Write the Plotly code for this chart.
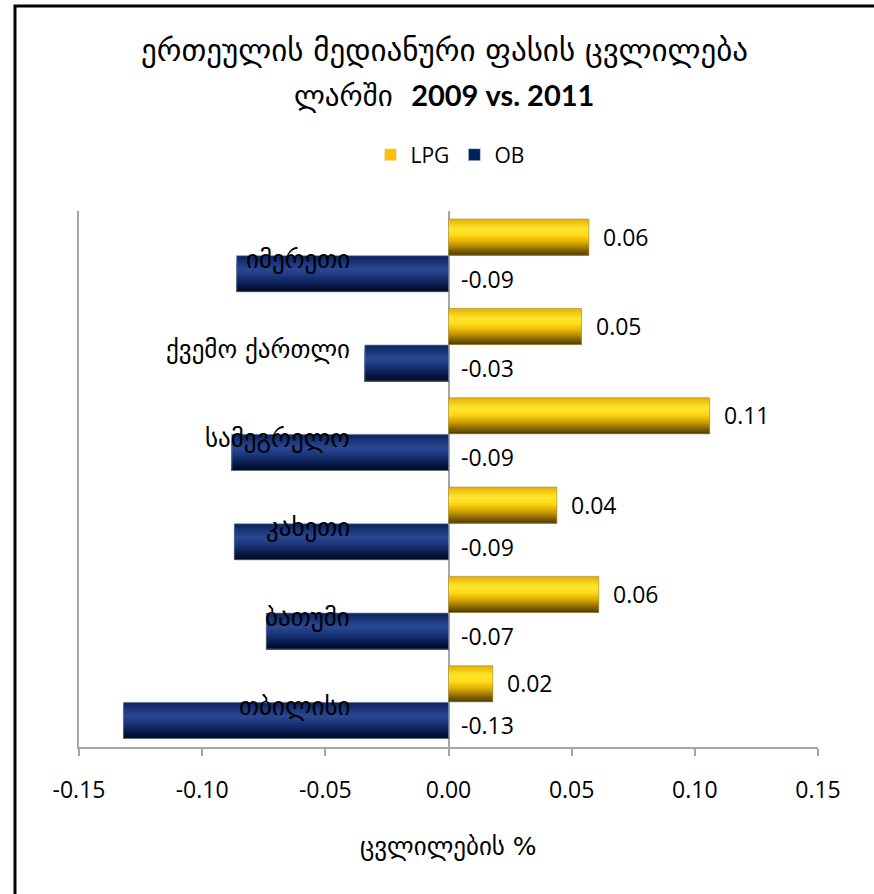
import plotly.graph_objects as go

# Regions, top to bottom
regions = ["იმერეთი", "ქვემო ქართლი", "სამეგრელო", "კახეთი", "ბათუმი", "თბილისი"]
lpg_change = [0.057, 0.054, 0.106, 0.044, 0.061, 0.018]
ob_change = [-0.086, -0.034, -0.088, -0.087, -0.074, -0.132]

x_ticks = [-0.15, -0.10, -0.05, 0.00, 0.05, 0.10, 0.15]
x_tick_text = [f"{v:.2f}" for v in x_ticks]

TITLE_1 = "ერთეულის მედიანური ფასის ცვლილება"
TITLE_2 = ("ლარში  <span style='font-family:Lato, sans-serif'>"
           "<b>2009 vs. 2011</b></span>")
X_TITLE = "ცვლილების %"

GEO_FONT = "DejaVu Sans, Noto Sans, sans-serif"
NUM_FONT = "Open Sans, Lato, sans-serif"

# vertical shading stops (0 = top edge of the bar, 1 = bottom edge)
LPG_STOPS = [(0.0, "#E6B000"), (0.28, "#FFE62E"), (0.45, "#FFDA18"),
             (0.65, "#D9A700"), (0.85, "#8A6800"), (1.0, "#4A3800")]
OB_STOPS = [(0.0, "#0C2360"), (0.38, "#2B4892"), (0.55, "#1C387E"),
            (0.78, "#0B1E52"), (1.0, "#00081E")]


def _hex(c):
    c = c.lstrip("#")
    return [int(c[i:i + 2], 16) for i in (0, 2, 4)]


def shade(stops, t):
    for (t0, c0), (t1, c1) in zip(stops[:-1], stops[1:]):
        if t0 <= t <= t1:
            f = (t - t0) / (t1 - t0) if t1 > t0 else 0
            a, b = _hex(c0), _hex(c1)
            r = [round(a[i] + (b[i] - a[i]) * f) for i in range(3)]
            return "rgb({},{},{})".format(*r)
    return stops[-1][1]


BAR_W = 0.405
N_STRIPES = 18
fig = go.Figure()


def add_shaded_bars(values, bottom_offset, stops, outline):
    # each band reaches down to the bar's bottom edge; later (lower) bands
    # paint over the earlier ones, which leaves no seams between them
    h = BAR_W / N_STRIPES
    for k in range(N_STRIPES):
        t = (k + 0.5) / N_STRIPES
        fig.add_trace(go.Bar(
            x=values, y=regions, orientation="h",
            offset=bottom_offset, width=BAR_W - k * h,
            marker=dict(color=shade(stops, t), line=dict(width=0)),
            showlegend=False, hoverinfo="skip",
        ))
    fig.add_trace(go.Bar(
        x=values, y=regions, orientation="h",
        offset=bottom_offset, width=BAR_W,
        marker=dict(color="rgba(0,0,0,0)", line=dict(width=1, color=outline)),
        showlegend=False, hoverinfo="skip",
    ))


add_shaded_bars(lpg_change, 0.005, LPG_STOPS, "rgba(170,150,90,0.7)")
add_shaded_bars(ob_change, -BAR_W, OB_STOPS, "rgba(140,150,170,0.7)")

# legend entries
fig.add_trace(go.Bar(x=[None], y=[None], orientation="h", name="LPG",
                     marker_color="#FFC000"))
fig.add_trace(go.Bar(x=[None], y=[None], orientation="h", name="OB",
                     marker_color="#002060"))

annotations = []
for name, lv, ov in zip(regions, lpg_change, ob_change):
    annotations.append(dict(
        x=lv, y=name, xref="x", yref="y", text=f"{lv:.2f}", showarrow=False,
        xanchor="left", yanchor="middle", xshift=12, yshift=BAR_W / 2 * 89 + 1,
        font=dict(family=NUM_FONT, size=23, color="#000000")))
    annotations.append(dict(
        x=0, y=name, xref="x", yref="y", text=f"{ov:.2f}", showarrow=False,
        xanchor="left", yanchor="middle", xshift=10, yshift=-BAR_W / 2 * 89 - 5,
        font=dict(family=NUM_FONT, size=23, color="#000000")))
    annotations.append(dict(
        x=0, y=name, xref="x", yref="y", text=name, showarrow=False,
        xanchor="right", yanchor="middle", xshift=-97, yshift=-4,
        font=dict(family=GEO_FONT, size=25, color="#000000")))

px = lambda v: (v - 79) / 739
py = lambda v: (747 - v) / 536

annotations += [
    dict(x=px(444), y=py(50), xref="paper", yref="paper",
         text=TITLE_1, showarrow=False, xanchor="center", yanchor="middle",
         font=dict(family=GEO_FONT, size=31, color="#000000")),
    dict(x=px(444), y=py(95), xref="paper", yref="paper",
         text=TITLE_2, showarrow=False, xanchor="center", yanchor="middle",
         font=dict(family=GEO_FONT, size=29, color="#000000")),
    dict(x=px(448), y=py(846), xref="paper", yref="paper",
         text=X_TITLE, showarrow=False, xanchor="center", yanchor="middle",
         font=dict(family=GEO_FONT, size=25, color="#000000")),
]

# outer frame: only its top and left edges fall inside the page
shapes = [
    dict(type="rect", xref="paper", yref="paper", x0=px(15), x1=px(910),
         y0=py(6), y1=py(930), line=dict(color="#000000", width=3),
         fillcolor="rgba(0,0,0,0)", layer="above"),
]

fig.update_layout(
    width=874, height=894,
    margin=dict(l=79, r=56, t=211, b=147),
    paper_bgcolor="#FFFFFF", plot_bgcolor="#FFFFFF",
    barmode="overlay",
    showlegend=True,
    legend=dict(orientation="h", x=px(450), y=py(155), xanchor="center",
                yanchor="middle", font=dict(family=NUM_FONT, size=21, color="#000000"),
                itemwidth=30, tracegroupgap=0, bgcolor="rgba(0,0,0,0)"),
    annotations=annotations,
    shapes=shapes,
    xaxis=dict(range=[-0.15, 0.15], tickvals=x_ticks, ticktext=x_tick_text,
               showgrid=False, zeroline=True, zerolinecolor="#A6A6A6",
               zerolinewidth=2, showline=True, linecolor="#A6A6A6", linewidth=2,
               ticks="outside", ticklen=7, tickwidth=2, tickcolor="#A6A6A6",
               ticklabelstandoff=14,
               tickfont=dict(family=NUM_FONT, size=23, color="#000000")),
    yaxis=dict(categoryorder="array", categoryarray=regions[::-1],
               showgrid=False, zeroline=False, showline=True,
               linecolor="#A6A6A6", linewidth=2, showticklabels=False,
               ticks="", range=[-0.5, len(regions) - 0.5]),
)

fig.write_html("out.html")
